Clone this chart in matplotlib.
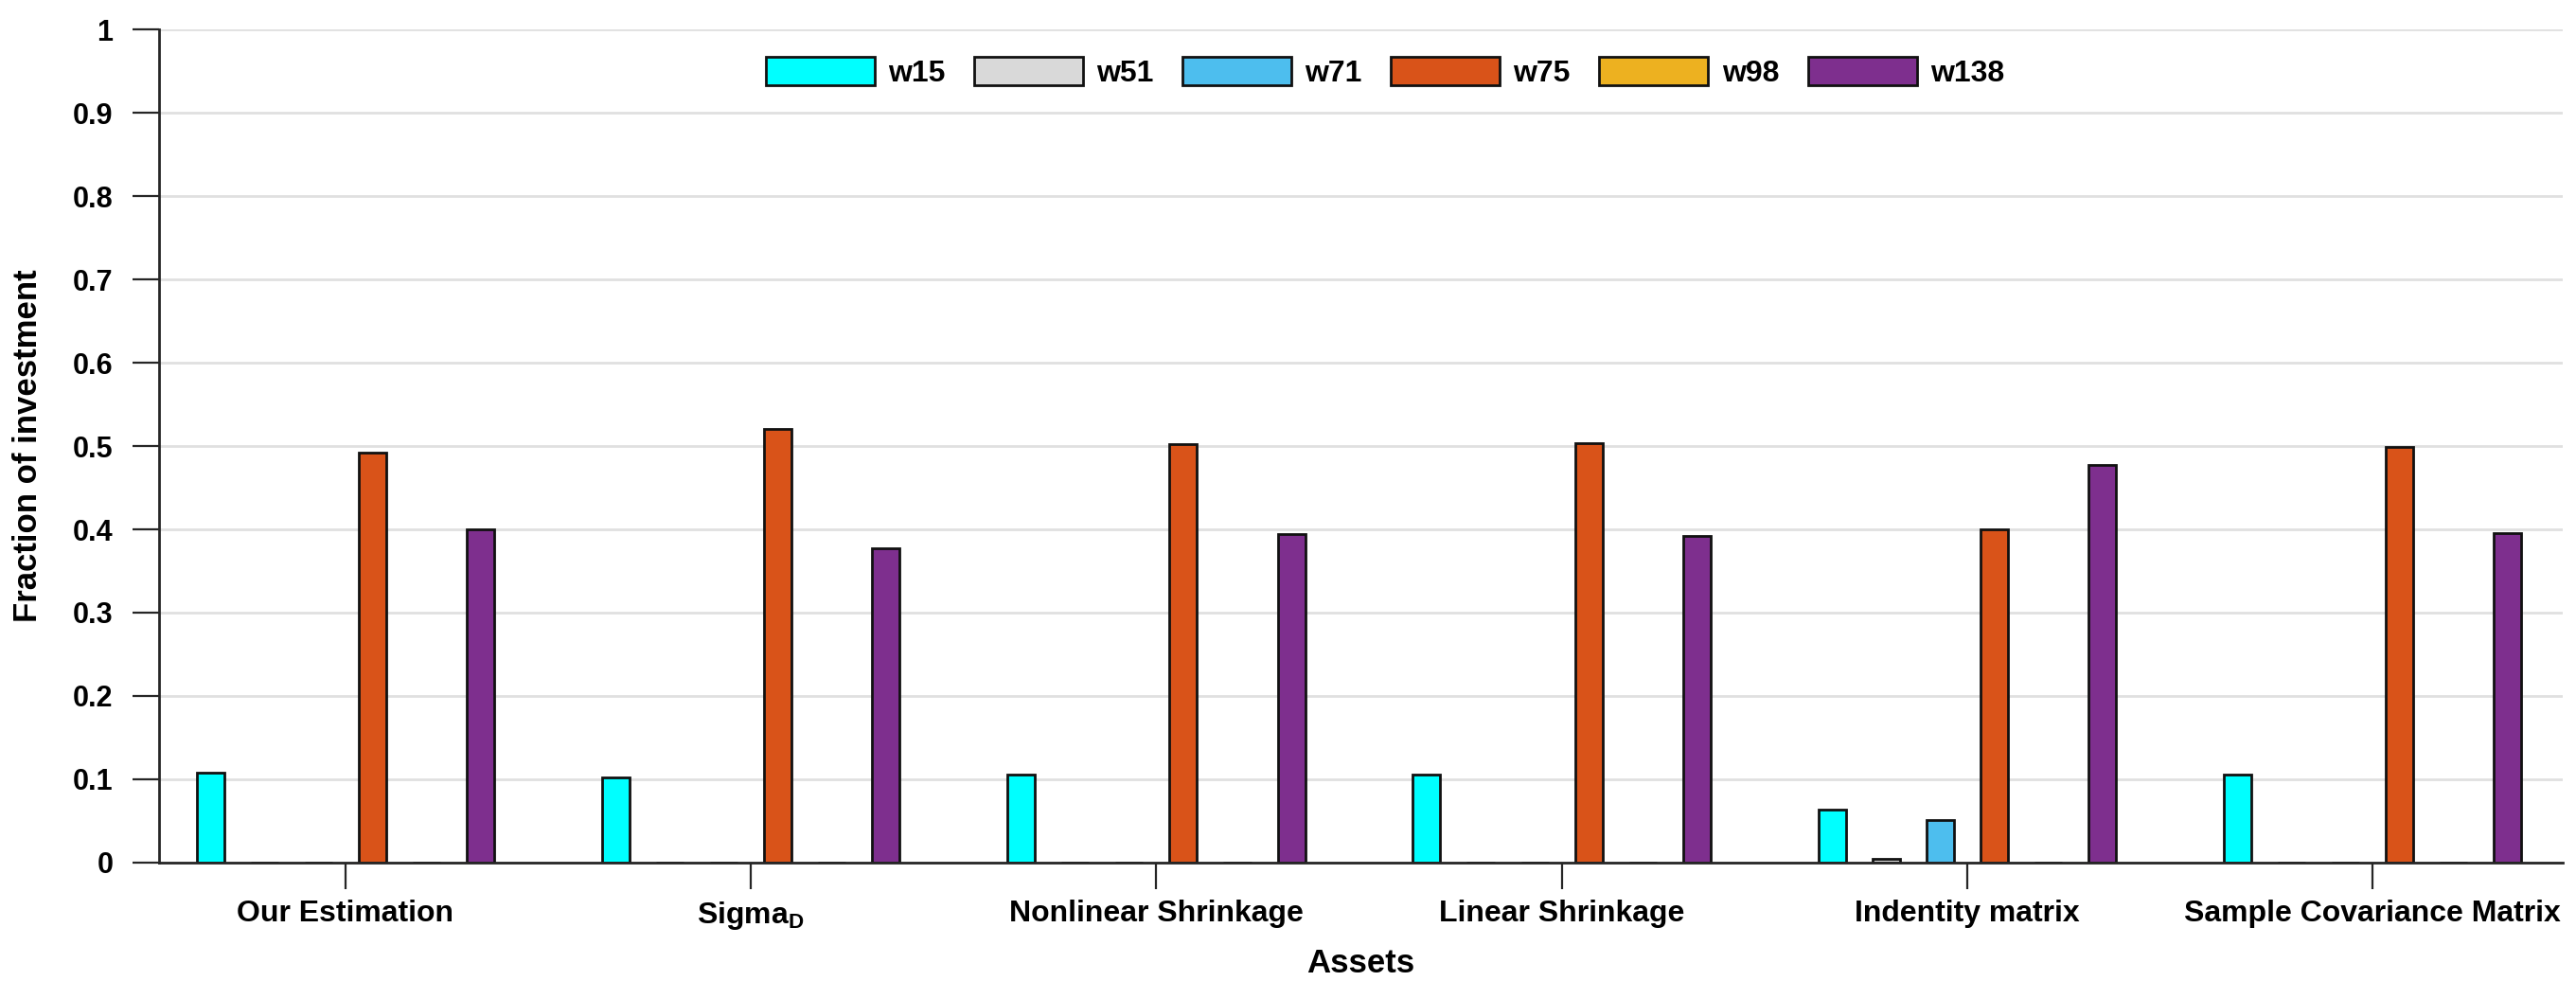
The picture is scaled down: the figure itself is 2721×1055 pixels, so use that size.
import matplotlib
matplotlib.use("Agg")
import matplotlib.pyplot as plt
import numpy as np

plt.rcParams["font.family"] = ["Liberation Sans", "DejaVu Sans"]
plt.rcParams["font.weight"] = "bold"
plt.rcParams["mathtext.fontset"] = "custom"
plt.rcParams["mathtext.rm"] = "Liberation Sans:bold"
plt.rcParams["mathtext.bf"] = "Liberation Sans:bold"

methods = ["Our Estimation", r"Sigma$_\mathrm{D}$", "Nonlinear Shrinkage",
           "Linear Shrinkage", "Indentity matrix", "Sample Covariance Matrix"]
series = ["w15", "w51", "w71", "w75", "w98", "w138"]
colors = ["#00FFFF", "#D9D9D9", "#4DBEEE", "#D95319", "#EDB120", "#7E2F8E"]

w15 = [0.108, 0.102, 0.106, 0.106, 0.064, 0.106]
w51 = [0.0, 0.0, 0.0, 0.0, 0.005, 0.0]
w71 = [0.0, 0.0, 0.0, 0.0, 0.051, 0.0]
w75 = [0.492, 0.520, 0.502, 0.503, 0.400, 0.499]
w98 = [0.0, 0.0, 0.0, 0.0, 0.0, 0.0]
w138 = [0.400, 0.377, 0.394, 0.392, 0.477, 0.396]
values = [w15, w51, w71, w75, w98, w138]

fig = plt.figure(figsize=(27.21, 10.55), dpi=100)
ax = fig.add_axes([0.0617, 0.1365, 0.9333, 0.8341])

x = np.arange(1, len(methods) + 1)
step = 0.8 / len(series)
for i, (name, vals, c) in enumerate(zip(series, values, colors)):
    offs = (i - (len(series) - 1) / 2) * step
    ax.bar(x + offs, vals, width=0.068, color=c, edgecolor="#111111",
           linewidth=2, label=name, zorder=3)

ax.set_xlim(0.54, 6.47)
ax.set_ylim(0, 1)
ax.set_xticks(x)
ax.set_xticklabels(methods, fontsize=23, fontweight="bold")
ax.set_yticks(np.arange(0, 1.01, 0.1))
ax.set_yticklabels(["0", "0.1", "0.2", "0.3", "0.4", "0.5", "0.6", "0.7",
                    "0.8", "0.9", "1"], fontsize=22, fontweight="bold")
ax.tick_params(direction="out", length=20, width=1.6, color="#262626")
ax.tick_params(axis="y", pad=15)
ax.tick_params(axis="x", pad=8)
ax.yaxis.grid(True, color="#E0E0E0", linewidth=2)
ax.set_axisbelow(True)
for s in ["top", "right"]:
    ax.spines[s].set_visible(False)
for s in ["left", "bottom"]:
    ax.spines[s].set_color("#262626")
    ax.spines[s].set_linewidth(2)
    ax.spines[s].set_zorder(4)

ax.set_xlabel("Assets", fontsize=25, fontweight="bold", labelpad=12)
ax.set_ylabel("Fraction of investment", fontsize=25, fontweight="bold", labelpad=22)

ax.legend(ncol=6, loc="upper center", bbox_to_anchor=(0.51, 1.0), frameon=False,
          fontsize=23, handlelength=3.6, handleheight=1.06, columnspacing=0.95,
          handletextpad=0.45)

fig.savefig("out.png", dpi=100)
